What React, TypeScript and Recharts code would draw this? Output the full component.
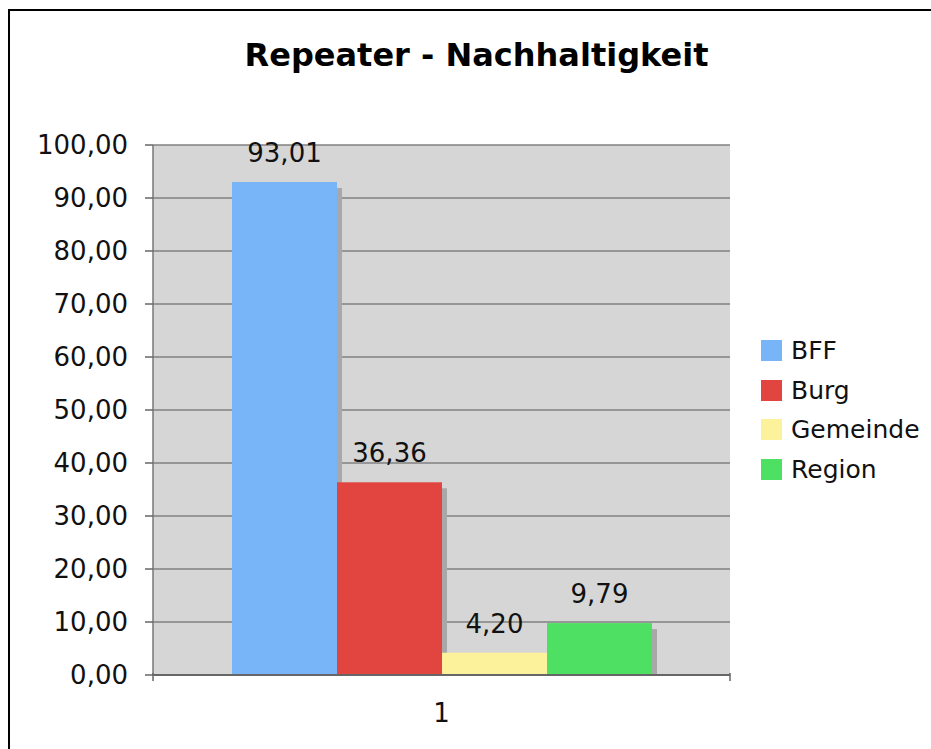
import React from 'react';
import { BarChart, Bar, XAxis, YAxis, CartesianGrid, LabelList } from 'recharts';

// values
const categories = ['1'];
const seriesNames = ['BFF', 'Burg', 'Gemeinde', 'Region'];
const seriesColors = ['#78b4f8', '#e2443f', '#fdf29c', '#4de062'];
const bffValues = [93.01];
const burgValues = [36.36];
const gemeindeValues = [4.2];
const regionValues = [9.79];
const yTicks = [0, 10, 20, 30, 40, 50, 60, 70, 80, 90, 100];

const seriesValues = [bffValues, burgValues, gemeindeValues, regionValues];

const chartData = categories.map((cat, i) => {
  const row: { [key: string]: string | number } = { name: cat };
  seriesNames.forEach((s, k) => {
    row[s] = seriesValues[k][i];
  });
  return row;
});

const fmt = (v: number) => Number(v).toFixed(2).replace('.', ',');

const FONT = '"DejaVu Sans", Verdana, sans-serif';

// bar with a grey drop shadow to the right
const ShadowBar = (props: any) => {
  const { x, y, width, height, fill } = props;
  return (
    <g>
      <rect x={x + 5} y={y + 6} width={width} height={Math.max(height - 6, 0)} fill="#a8a8a8" />
      <rect x={x} y={y} width={width} height={height} fill={fill} />
    </g>
  );
};

// category label in the middle, tick marks on the band edges
const XTick = (props: any) => {
  const { x, y, payload } = props;
  const half = payload && payload.offset ? payload.offset : 0;
  return (
    <g>
      {half > 0 && (
        <>
          <line x1={x - half} x2={x - half} y1={y - 28} y2={y - 20} stroke="#666" strokeWidth={1.5} />
          <line x1={x + half} x2={x + half} y1={y - 28} y2={y - 20} stroke="#666" strokeWidth={1.5} />
        </>
      )}
      <text x={x} y={y + 21} textAnchor="middle" fontSize={26} fill="#111" fontFamily={FONT}>
        {payload.value}
      </text>
    </g>
  );
};

export default function App() {
  return (
    <div style={{ position: 'absolute', left: 0, top: 0, width: 931, height: 749, overflow: 'hidden', background: '#fff' }}>
      <style>{'html,body{margin:0;overflow:hidden}'}</style>
      <div style={{ position: 'absolute', left: 8, top: 9, width: 1000, height: 1000, border: '2px solid #000' }} />
      <div style={{
        position: 'absolute', left: 0, top: 37, width: 953, textAlign: 'center',
        fontFamily: FONT, fontWeight: 'bold', fontSize: 32, lineHeight: '36px', color: '#000'
      }}>
        Repeater - Nachhaltigkeit
      </div>
      <div style={{ position: 'absolute', left: 0, top: 0 }}>
        <BarChart
          width={931}
          height={749}
          data={chartData}
          margin={{ top: 145, right: 201, bottom: 0, left: 0 }}
          barCategoryGap={79}
          barGap={0}
        >
          <CartesianGrid vertical={false} stroke="#808080" strokeWidth={1.5} fill="#d6d6d6" />
          <XAxis
            dataKey="name"
            height={74}
            axisLine={{ stroke: '#666', strokeWidth: 2 }}
            tickLine={false}
            tickMargin={20}
            tick={<XTick />}
          />
          <YAxis
            width={153}
            domain={[0, 100]}
            ticks={yTicks}
            interval={0}
            tickFormatter={fmt}
            tickSize={8}
            tickMargin={17}
            axisLine={{ stroke: '#777', strokeWidth: 1.5 }}
            tickLine={{ stroke: '#666', strokeWidth: 1.5 }}
            tick={{ fontSize: 26, fill: '#111', fontFamily: FONT }}
          />
          <YAxis
            yAxisId="frame"
            orientation="right"
            width={0}
            domain={[0, 100]}
            tick={false}
            tickLine={false}
            axisLine={{ stroke: '#888', strokeWidth: 1.5 }}
          />
          {seriesNames.map((s, k) => (
            <Bar key={s} dataKey={s} fill={seriesColors[k]} shape={<ShadowBar />} isAnimationActive={false}>
              <LabelList
                dataKey={s}
                position="top"
                offset={20}
                formatter={(v: any) => fmt(v)}
                style={{ fontSize: 26, fill: '#111', fontFamily: FONT }}
              />
            </Bar>
          ))}
        </BarChart>
      </div>
      <div style={{ position: 'absolute', left: 761, top: 331, fontFamily: FONT, fontSize: 25, color: '#111' }}>
        {seriesNames.map((s, k) => (
          <div key={s} style={{ display: 'flex', alignItems: 'center', height: 39.5, lineHeight: '39.5px' }}>
            <span style={{ width: 21, height: 21, background: seriesColors[k], marginRight: 9, display: 'inline-block' }} />
            <span>{s}</span>
          </div>
        ))}
      </div>
    </div>
  );
}
